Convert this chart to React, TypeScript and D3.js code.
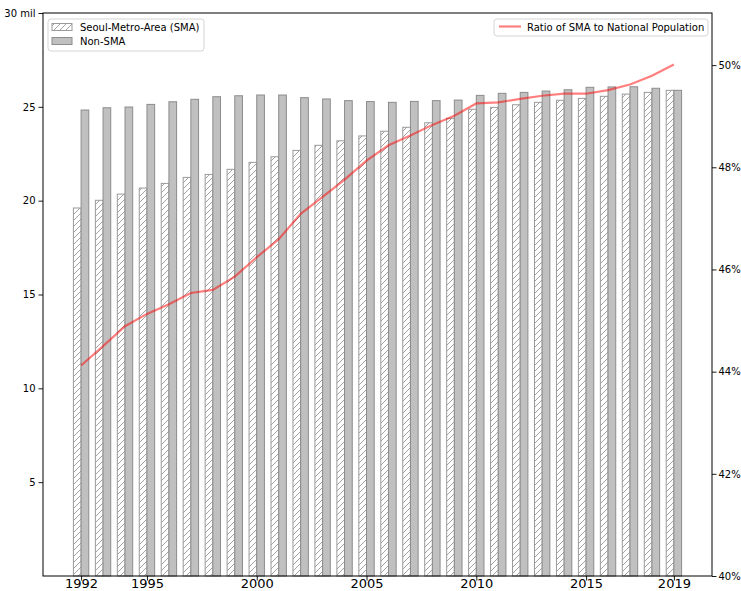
import { useEffect, useRef } from 'react';
import * as d3 from 'd3';

// population in millions
const years = [1992, 1993, 1994, 1995, 1996, 1997, 1998, 1999, 2000, 2001, 2002, 2003, 2004, 2005,
  2006, 2007, 2008, 2009, 2010, 2011, 2012, 2013, 2014, 2015, 2016, 2017, 2018, 2019];
const smaPop = [19.61, 20.02, 20.35, 20.67, 20.92, 21.24, 21.40, 21.67, 22.04, 22.34, 22.68, 22.95, 23.19, 23.45,
  23.70, 23.91, 24.15, 24.39, 24.87, 24.97, 25.11, 25.24, 25.35, 25.45, 25.56, 25.68, 25.77, 25.88];
const nonSmaPop = [24.83, 24.95, 24.99, 25.13, 25.27, 25.40, 25.54, 25.59, 25.63, 25.63, 25.49, 25.42, 25.33, 25.28,
  25.24, 25.29, 25.33, 25.36, 25.61, 25.72, 25.77, 25.84, 25.91, 26.04, 26.06, 26.07, 25.99, 25.88];
// percent
const ratio = [44.12, 44.50, 44.89, 45.13, 45.32, 45.54, 45.60, 45.86, 46.24, 46.59, 47.09, 47.42, 47.76, 48.13,
  48.43, 48.62, 48.83, 49.01, 49.25, 49.27, 49.34, 49.40, 49.44, 49.44, 49.51, 49.62, 49.79, 50.01];

const xTicks = [1992, 1995, 2000, 2005, 2010, 2015, 2019];
const leftTicks = [5, 10, 15, 20, 25, 30];
const rightTicks = [40, 42, 44, 46, 48, 50];

const App = () => {
  const ref = useRef<SVGSVGElement>(null);

  useEffect(() => {
    const svg = d3.select(ref.current);
    svg.selectAll('*').remove();

    const left = 43, right = 712, top = 13, bottom = 576;
    const barW = 0.35;
    const font = 'DejaVu Sans, sans-serif';

    const x = d3.scaleLinear().domain([1990.265, 2020.735]).range([left, right]);
    const y = d3.scaleLinear().domain([0, 30]).range([bottom, top]);
    const y2 = d3.scaleLinear().domain([40, 51.02]).range([bottom, top]);

    // hatch pattern
    const defs = svg.append('defs');
    const pat = defs.append('pattern')
      .attr('id', 'hatch')
      .attr('patternUnits', 'userSpaceOnUse')
      .attr('width', 6).attr('height', 6);
    pat.append('rect').attr('width', 6).attr('height', 6).attr('fill', 'white');
    pat.append('path').attr('d', 'M-1,7 L7,-1 M-1,1 L1,-1 M5,7 L7,5')
      .attr('stroke', '#8a8a8a').attr('stroke-width', 0.8);

    const bars = svg.append('g');
    // SMA bars (left of tick)
    bars.selectAll('rect.sma').data(years).enter().append('rect')
      .attr('class', 'sma')
      .attr('x', d => x(d - barW))
      .attr('width', d => x(d) - x(d - barW))
      .attr('y', (d, i) => y(smaPop[i]))
      .attr('height', (d, i) => bottom - y(smaPop[i]))
      .attr('fill', 'url(#hatch)')
      .attr('stroke', '#9a9a9a').attr('stroke-width', 1);

    // Non-SMA bars (right of tick)
    bars.selectAll('rect.non').data(years).enter().append('rect')
      .attr('class', 'non')
      .attr('x', d => x(d))
      .attr('width', d => x(d + barW) - x(d))
      .attr('y', (d, i) => y(nonSmaPop[i]))
      .attr('height', (d, i) => bottom - y(nonSmaPop[i]))
      .attr('fill', '#c0c0c0')
      .attr('stroke', '#8c8c8c').attr('stroke-width', 1);

    // ratio line
    const line = d3.line<number>()
      .x((d, i) => x(years[i]))
      .y(d => y2(d));
    svg.append('path').datum(ratio)
      .attr('d', line)
      .attr('fill', 'none')
      .attr('stroke', 'red').attr('stroke-opacity', 0.5)
      .attr('stroke-width', 2.2);

    // axes
    const xAxis = d3.axisBottom(x).tickValues(xTicks).tickFormat(d3.format('d')).tickSize(4.5);
    const gx = svg.append('g').attr('transform', `translate(0,${bottom})`).call(xAxis);
    gx.select('.domain').remove();
    gx.selectAll('text').attr('y', 11.5).attr('dy', null)
      .style('font-family', font).style('font-size', '13px').attr('fill', '#000');

    const yAxis = d3.axisLeft(y).tickValues(leftTicks)
      .tickFormat(d => (+d === 30 ? '30 mil' : String(d))).tickSize(4.5).tickPadding(3);
    const gy = svg.append('g').attr('transform', `translate(${left},0)`).call(yAxis);
    gy.select('.domain').remove();
    gy.selectAll('text').style('font-family', font).style('font-size', '10px').attr('fill', '#000');

    const y2Axis = d3.axisRight(y2).tickValues(rightTicks)
      .tickFormat(d => `${d}%`).tickSize(4.5).tickPadding(2);
    const gy2 = svg.append('g').attr('transform', `translate(${right},0)`).call(y2Axis);
    gy2.select('.domain').remove();
    gy2.selectAll('text').style('font-family', font).style('font-size', '10px').attr('fill', '#000');

    svg.selectAll('.tick line').attr('stroke', '#000').attr('stroke-width', 0.9);

    // frame
    svg.append('rect')
      .attr('x', left).attr('y', top)
      .attr('width', right - left).attr('height', bottom - top)
      .attr('fill', 'none').attr('stroke', '#000').attr('stroke-width', 1);

    // left legend
    const lg = svg.append('g');
    lg.append('rect').attr('x', 48).attr('y', 19).attr('width', 156).attr('height', 32)
      .attr('rx', 3).attr('fill', 'white').attr('fill-opacity', 0.8)
      .attr('stroke', '#d5d5d5').attr('stroke-width', 1);
    lg.append('rect').attr('x', 52).attr('y', 23.5).attr('width', 20).attr('height', 7)
      .attr('fill', 'url(#hatch)').attr('stroke', '#9a9a9a');
    lg.append('text').attr('x', 80).attr('y', 31).text('Seoul-Metro-Area (SMA)')
      .style('font-family', font).style('font-size', '10px');
    lg.append('rect').attr('x', 52).attr('y', 37.5).attr('width', 20).attr('height', 7)
      .attr('fill', '#c0c0c0').attr('stroke', '#8c8c8c');
    lg.append('text').attr('x', 80).attr('y', 45).text('Non-SMA')
      .style('font-family', font).style('font-size', '10px');

    // right legend
    const rg = svg.append('g');
    rg.append('rect').attr('x', 494).attr('y', 19).attr('width', 214).attr('height', 17)
      .attr('rx', 3).attr('fill', 'white').attr('fill-opacity', 0.8)
      .attr('stroke', '#d5d5d5').attr('stroke-width', 1);
    rg.append('line').attr('x1', 499).attr('x2', 521).attr('y1', 26.5).attr('y2', 26.5)
      .attr('stroke', 'red').attr('stroke-opacity', 0.5).attr('stroke-width', 2.2);
    rg.append('text').attr('x', 527).attr('y', 30.5).text('Ratio of SMA to National Population')
      .style('font-family', font).style('font-size', '10px');
  }, []);

  return (
    <div style={{ position: 'absolute', left: 0, top: 0 }}>
      <svg ref={ref} width={741} height={591} style={{ display: 'block', background: 'white' }} />
    </div>
  );
};

export default App;
